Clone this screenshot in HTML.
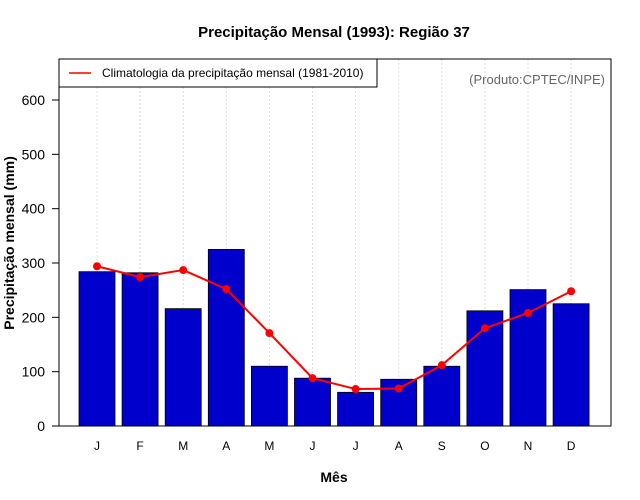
<!DOCTYPE html>
<html><head><meta charset="utf-8"><style>body{margin:0;background:#fff}svg{display:block;font-family:"Liberation Sans",sans-serif}</style></head>
<body>
<svg id="c" width="640" height="500">
<text x="334" y="37" text-anchor="middle" font-size="15" font-weight="bold">Precipitação Mensal (1993): Região 37</text>
<g id="grid"></g><g id="bars"></g><g id="line"></g><g id="axes"></g>
<rect x="59" y="59" width="552" height="367" fill="none" stroke="#000"/>
<g>
<rect x="59" y="59" width="318" height="28" fill="#fff" stroke="#000"/>
<line x1="69" y1="73" x2="91" y2="73" stroke="red" stroke-width="1.5"/>
<text x="102" y="77" font-size="12">Climatologia da precipitação mensal (1981-2010)</text>
</g>
<text x="605" y="84" text-anchor="end" font-size="13" fill="#666">(Produto:CPTEC/INPE)</text>
<text x="334" y="482" text-anchor="middle" font-size="14" font-weight="bold">Mês</text>
<text transform="translate(14,243) rotate(-90)" text-anchor="middle" font-size="14" font-weight="bold">Precipitação mensal (mm)</text>
</svg>
<script>
const months=["J","F","M","A","M","J","J","A","S","O","N","D"];
const observed=[284,282,216,325,110,88,62,86,110,212,251,225];
const climatology=[294,274,287,252,171,88,68,69,112,180,208,248];
const yTicks=[0,100,200,300,400,500,600];
const NS="http://www.w3.org/2000/svg";
const x=i=>97+i*43.1, y=v=>426-v*0.54333;
function mk(p,t,a){const e=document.createElementNS(NS,t);for(const k in a)e.setAttribute(k,a[k]);document.getElementById(p).appendChild(e);return e;}
months.forEach((m,i)=>{
 const g=mk('grid','line',{x1:x(i),x2:x(i),y1:59,y2:426,stroke:'#ddd','stroke-dasharray':'2,2'});
 
 
 const b=mk('bars','rect',{x:x(i)-18,y:y(observed[i]),width:36,height:y(0)-y(observed[i]),fill:'#0000cd',stroke:'#000','stroke-width':0.8});
 
 
 const t=mk('axes','text',{x:x(i),y:450,'text-anchor':'middle','font-size':12});
 t.textContent=m;
 
 
});
const pl=mk('line','polyline',{points:climatology.map((v,i)=>x(i)+','+y(v)).join(' '),fill:'none',stroke:'red','stroke-width':2});


climatology.forEach((v,i)=>{
 const c=mk('line','circle',{cx:x(i),cy:y(v),r:4,fill:'red'});
 
 
});
yTicks.forEach(v=>{
 const l=mk('axes','line',{x1:52,x2:59,y1:y(v),y2:y(v),stroke:'#000'});
 
 
 const t=mk('axes','text',{x:45,y:y(v)+5,'text-anchor':'end','font-size':14});
 t.textContent=v;
 
 
});
</script>
</body></html>
